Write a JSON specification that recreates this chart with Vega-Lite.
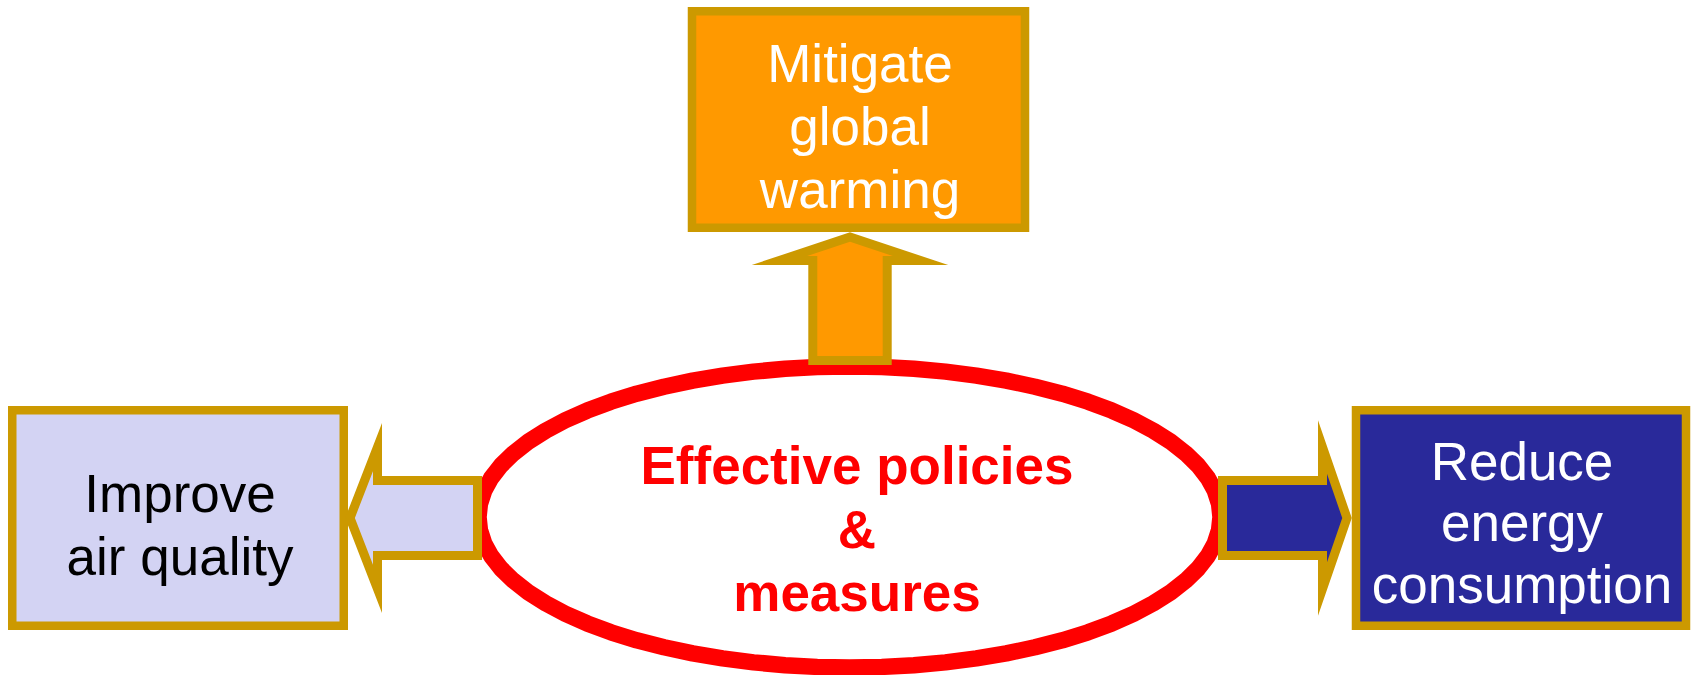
{
  "$schema": "https://vega.github.io/schema/vega-lite/v6.json",
  "width": 1691,
  "height": 675,
  "autosize": {"type": "none"},
  "padding": 0,
  "background": "white",
  "config": {"view": {"stroke": null}},
  "datasets": {
    "ellipse": [
      {"i":0,"x":1220.5,"y":517},{"i":1,"x":1219.1,"y":503.9},{"i":2,"x":1214.9,"y":490.9},{"i":3,"x":1207.9,"y":478.1},{"i":4,"x":1198.1,"y":465.5},{"i":5,"x":1185.7,"y":453.4},{"i":6,"x":1170.8,"y":441.8},{"i":7,"x":1153.4,"y":430.7},{"i":8,"x":1133.7,"y":420.3},{"i":9,"x":1111.8,"y":410.6},{"i":10,"x":1088.0,"y":401.7},{"i":11,"x":1062.3,"y":393.7},{"i":12,"x":1035.0,"y":386.7},{"i":13,"x":1006.3,"y":380.6},{"i":14,"x":976.4,"y":375.6},{"i":15,"x":945.5,"y":371.6},{"i":16,"x":913.9,"y":368.8},{"i":17,"x":881.8,"y":367.1},
      {"i":18,"x":849.5,"y":366.5},{"i":19,"x":817.2,"y":367.1},{"i":20,"x":785.1,"y":368.8},{"i":21,"x":753.5,"y":371.6},{"i":22,"x":722.6,"y":375.6},{"i":23,"x":692.7,"y":380.6},{"i":24,"x":664.0,"y":386.7},{"i":25,"x":636.7,"y":393.7},{"i":26,"x":611.0,"y":401.7},{"i":27,"x":587.2,"y":410.6},{"i":28,"x":565.3,"y":420.3},{"i":29,"x":545.6,"y":430.7},{"i":30,"x":528.2,"y":441.8},{"i":31,"x":513.3,"y":453.4},{"i":32,"x":500.9,"y":465.5},{"i":33,"x":491.1,"y":478.1},{"i":34,"x":484.1,"y":490.9},{"i":35,"x":479.9,"y":503.9},
      {"i":36,"x":478.5,"y":517},{"i":37,"x":479.9,"y":530.1},{"i":38,"x":484.1,"y":543.1},{"i":39,"x":491.1,"y":555.9},{"i":40,"x":500.9,"y":568.5},{"i":41,"x":513.3,"y":580.6},{"i":42,"x":528.2,"y":592.3},{"i":43,"x":545.6,"y":603.3},{"i":44,"x":565.3,"y":613.7},{"i":45,"x":587.2,"y":623.4},{"i":46,"x":611.0,"y":632.3},{"i":47,"x":636.7,"y":640.3},{"i":48,"x":664.0,"y":647.3},{"i":49,"x":692.7,"y":653.4},{"i":50,"x":722.6,"y":658.4},{"i":51,"x":753.5,"y":662.4},{"i":52,"x":785.1,"y":665.2},{"i":53,"x":817.2,"y":666.9},
      {"i":54,"x":849.5,"y":667.5},{"i":55,"x":881.8,"y":666.9},{"i":56,"x":913.9,"y":665.2},{"i":57,"x":945.5,"y":662.4},{"i":58,"x":976.4,"y":658.4},{"i":59,"x":1006.3,"y":653.4},{"i":60,"x":1035.0,"y":647.3},{"i":61,"x":1062.3,"y":640.3},{"i":62,"x":1088.0,"y":632.3},{"i":63,"x":1111.8,"y":623.4},{"i":64,"x":1133.7,"y":613.7},{"i":65,"x":1153.4,"y":603.3},{"i":66,"x":1170.8,"y":592.3},{"i":67,"x":1185.7,"y":580.6},{"i":68,"x":1198.1,"y":568.5},{"i":69,"x":1207.9,"y":555.9},{"i":70,"x":1214.9,"y":543.1},{"i":71,"x":1219.1,"y":530.1}
    ],
    "boxes": [
      {"item":"top","x":692,"x2":1025,"y":11.25,"y2":227.75},
      {"item":"left","x":12.25,"x2":343.75,"y":410.25,"y2":625.75},
      {"item":"right","x":1356,"x2":1686,"y":410.25,"y2":625.75}
    ],
    "arrows": [
      {"item":"top","i":0,"x":850,"y":237},{"item":"top","i":1,"x":920.5,"y":260.5},{"item":"top","i":2,"x":887.2,"y":260.5},{"item":"top","i":3,"x":887.2,"y":360.5},{"item":"top","i":4,"x":812.8,"y":360.5},{"item":"top","i":5,"x":812.8,"y":260.5},{"item":"top","i":6,"x":779.5,"y":260.5},
      {"item":"left","i":0,"x":350,"y":518},{"item":"left","i":1,"x":377.5,"y":447},{"item":"left","i":2,"x":377.5,"y":480.5},{"item":"left","i":3,"x":477.5,"y":480.5},{"item":"left","i":4,"x":477.5,"y":555.5},{"item":"left","i":5,"x":377.5,"y":555.5},{"item":"left","i":6,"x":377.5,"y":589},
      {"item":"right","i":0,"x":1347,"y":518},{"item":"right","i":1,"x":1322.5,"y":447},{"item":"right","i":2,"x":1322.5,"y":480.5},{"item":"right","i":3,"x":1222.5,"y":480.5},{"item":"right","i":4,"x":1222.5,"y":555.5},{"item":"right","i":5,"x":1322.5,"y":555.5},{"item":"right","i":6,"x":1322.5,"y":589}
    ],
    "labels": [
      {"item":"top","text":"Mitigate","x":860,"y":82},
      {"item":"top","text":"global","x":860,"y":145},
      {"item":"top","text":"warming","x":860,"y":208},
      {"item":"left","text":"Improve","x":180,"y":512},
      {"item":"left","text":"air quality","x":180,"y":575},
      {"item":"right","text":"Reduce","x":1522,"y":480},
      {"item":"right","text":"energy","x":1522,"y":541},
      {"item":"right","text":"consumption","x":1522,"y":603}
    ],
    "center": [
      {"text":"Effective policies","x":857,"y":484},
      {"text":"&","x":857,"y":548},
      {"text":"measures","x":857,"y":611}
    ]
  },
  "layer": [
    {
      "data": {"name": "ellipse"},
      "mark": {"type": "line", "interpolate": "linear-closed", "stroke": "#FF0000", "strokeWidth": 16.5, "strokeJoin": "round", "fill": "white"},
      "encoding": {
        "x": {"field": "x", "type": "quantitative", "axis": null, "scale": {"domain": [0, 1691], "nice": false, "zero": false}},
        "y": {"field": "y", "type": "quantitative", "axis": null, "scale": {"domain": [0, 675], "nice": false, "zero": false, "reverse": true}},
        "order": {"field": "i", "type": "quantitative"}
      }
    },
    {
      "data": {"name": "boxes"},
      "mark": {"type": "rect", "stroke": "#CC9900", "strokeWidth": 8.5},
      "encoding": {
        "x": {"field": "x", "type": "quantitative"},
        "x2": {"field": "x2"},
        "y": {"field": "y", "type": "quantitative"},
        "y2": {"field": "y2"},
        "fill": {"field": "item", "type": "nominal", "legend": null, "scale": {"domain": ["top", "left", "right"], "range": ["#FF9900", "#D3D3F3", "#29299A"]}}
      }
    },
    {
      "data": {"name": "arrows"},
      "mark": {"type": "line", "interpolate": "linear-closed", "stroke": "#CC9900", "strokeWidth": 9, "strokeJoin": "miter", "strokeMiterLimit": 10},
      "encoding": {
        "x": {"field": "x", "type": "quantitative"},
        "y": {"field": "y", "type": "quantitative"},
        "order": {"field": "i", "type": "quantitative"},
        "detail": {"field": "item", "type": "nominal"},
        "fill": {"field": "item", "type": "nominal", "legend": null, "scale": {"domain": ["top", "left", "right"], "range": ["#FF9900", "#D3D3F3", "#29299A"]}}
      }
    },
    {
      "data": {"name": "labels"},
      "mark": {"type": "text", "font": "Liberation Sans", "fontSize": 53, "align": "center", "baseline": "alphabetic"},
      "encoding": {
        "x": {"field": "x", "type": "quantitative"},
        "y": {"field": "y", "type": "quantitative"},
        "text": {"field": "text", "type": "nominal"},
        "color": {"field": "item", "type": "nominal", "legend": null, "scale": {"domain": ["top", "left", "right"], "range": ["#FFFFFF", "#000000", "#FFFFFF"]}}
      }
    },
    {
      "data": {"name": "center"},
      "mark": {"type": "text", "font": "Liberation Sans", "fontSize": 53, "fontWeight": "bold", "align": "center", "baseline": "alphabetic", "color": "#FF0000"},
      "encoding": {
        "x": {"field": "x", "type": "quantitative"},
        "y": {"field": "y", "type": "quantitative"},
        "text": {"field": "text", "type": "nominal"}
      }
    }
  ],
  "resolve": {"scale": {"fill": "independent", "color": "independent"}}
}
